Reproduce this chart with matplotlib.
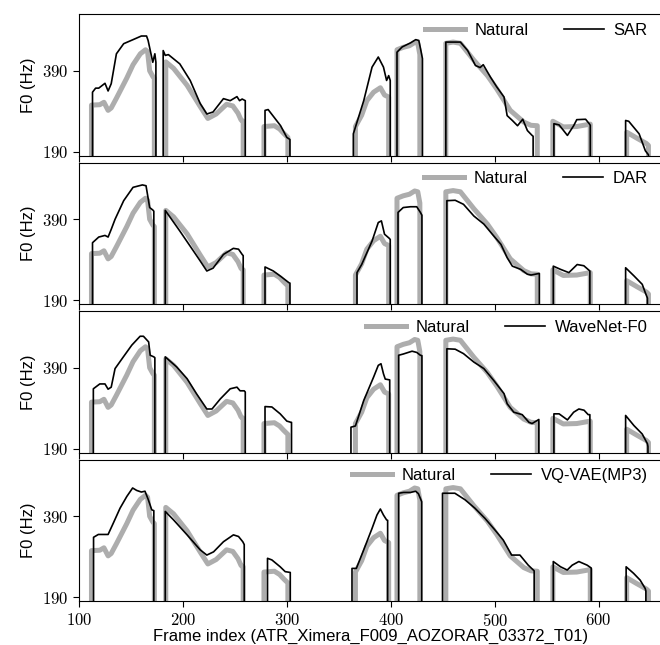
import numpy as np
import matplotlib
matplotlib.use("Agg")
import matplotlib.pyplot as plt
from matplotlib.ticker import FuncFormatter

plt.rcParams['font.family'] = ['Liberation Sans', 'DejaVu Sans']
plt.rcParams['mathtext.fontset'] = 'cm'
plt.rcParams['font.size'] = 12

# voiced segments, (frame, F0 in Hz); unvoiced frames are 0
natural = [
    [(112, 305), (120, 306), (124, 312), (128, 292), (131, 298), (136, 322), (146, 372),
     (152, 405), (159, 432), (164, 442), (166, 437), (168, 390), (171, 376), (172.5, 372)],
    [(183.5, 412), (191, 396), (204, 354), (217, 300), (224, 272), (232, 283), (242, 307),
     (248, 303), (253, 285), (256, 268), (258, 265)],
    [(278, 252), (288, 254), (293, 246), (297, 235), (301, 225)],
    [(366, 252), (372, 280), (377, 316), (383.5, 337), (390, 348), (394, 330), (398, 325)],
    [(406, 442), (412, 448), (418, 452), (423, 460), (426, 458), (428, 430)],
    [(453, 458), (460, 461), (467, 458), (480, 416), (493, 378), (502, 345), (515, 292),
     (528, 263), (535, 255), (541, 254)],
    [(556, 265), (566, 251), (579, 252), (592, 258)],
    [(627, 238), (637, 223), (646, 210), (648, 205)],
]

sar = [
    [(113, 337), (116, 347), (119, 347), (125, 359), (128, 340), (131, 358), (136, 432),
     (143, 457), (152, 467), (160, 476), (165, 476), (166.5, 465), (171, 411), (173, 432),
     (174, 411)],
    [(181, 440), (183, 428), (186, 430), (197, 407), (207, 366), (216.6, 309), (223, 283),
     (229, 288), (239, 321), (245.5, 316), (252, 326), (254.5, 316), (257, 320), (260, 316)],
    [(279, 292), (282, 294), (294, 254), (300, 225), (303, 220)],
    [(364, 234), (374, 316), (382, 399), (388, 424), (393, 399), (396, 366), (398, 378),
     (399.5, 366)],
    [(406, 436), (411, 449), (419, 459), (424, 467), (427, 465), (429, 440), (430.5, 420)],
    [(453, 461), (467, 461), (474, 440), (481.5, 403), (486, 398), (489, 405), (496, 374),
     (502, 350), (509, 325), (512, 279), (517, 267), (522, 254), (527, 270), (531.5, 242),
     (536, 230), (537, 228)],
    [(557, 259), (562, 256), (570, 230), (576, 254), (579, 269), (587.5, 270), (591, 259),
     (592, 255)],
    [(626, 267), (629, 265), (639, 234), (645, 192), (648, 182)],
]

dar = [
    [(113, 332), (119, 346), (125, 350), (128, 346), (131, 365), (134.7, 390), (143, 436),
     (152, 469), (161, 475), (164.5, 473), (166, 450), (168, 419), (171, 413), (172, 410)],
    [(183, 412), (197, 361), (210, 312), (216.6, 287), (223, 262), (229, 269), (239, 303),
     (248.5, 318), (253.5, 316), (257, 303), (258, 300)],
    [(279, 272), (287, 262), (295, 247), (302, 233), (303, 232)],
    [(367.5, 258), (372, 278), (382, 336), (388, 382), (391, 386), (394, 353), (398.5, 343),
     (399.5, 340)],
    [(407, 407), (412, 419), (419, 421), (425, 421), (428.5, 407), (430, 400)],
    [(454, 436), (462, 437), (470, 427), (480, 398), (489.6, 378), (499, 349), (506, 328),
     (512, 295), (517, 274), (525, 266), (531.5, 254), (535, 252), (543, 256)],
    [(556.4, 274), (563.4, 266), (571.4, 258), (579.4, 278), (585.8, 275), (591.6, 262)],
    [(626, 270), (634, 250), (642, 229), (645, 208), (647, 195)],
]

wavenet = [
    [(113.8, 338), (120, 350), (125, 350), (128, 337), (131, 342), (134.7, 388),
     (142.7, 417), (150.8, 446), (158.8, 468), (162, 468), (167, 454), (168.5, 421),
     (172, 417), (173, 415)],
    [(183, 417), (194, 392), (204, 363), (213, 326), (223, 288), (228, 288), (236, 313),
     (245.5, 338), (252, 342), (255, 333), (259, 333), (260, 330)],
    [(279, 294), (285.6, 293), (293.6, 276), (300, 258), (304, 255), (304.5, 255)],
    [(361.7, 243), (366, 246), (374, 309), (383.5, 367), (388, 396), (390.6, 400),
     (393, 375), (394.7, 362), (399, 360)],
    [(407.6, 421), (412, 424), (420.5, 431), (425, 428), (428.5, 421), (430, 420)],
    [(454, 437), (462, 436), (470, 425), (480, 404), (489.6, 388), (499, 359), (509, 326),
     (512, 301), (518.4, 280), (526.5, 274), (533, 255), (536, 252), (542.5, 262)],
    [(557, 276), (562, 276), (570, 261), (576, 280), (581, 288), (586, 285), (590, 274),
     (591.6, 274)],
    [(626, 272), (634, 247), (642, 226), (647, 202), (647.5, 195)],
]

vqvae = [
    [(114, 338), (118.6, 345), (128, 345), (133, 373), (139.5, 410), (146, 439),
     (151.6, 460), (155.5, 454), (160, 450), (163.5, 452), (166.7, 431), (170, 406),
     (172, 404)],
    [(183, 402), (191, 381), (204, 344), (216.6, 307), (223, 294), (229.5, 302), (239, 327),
     (248.6, 344), (253.5, 340), (257.6, 327), (259, 320)],
    [(281.4, 286), (285.6, 282), (293.6, 265), (298.4, 253), (303.3, 251)],
    [(362.7, 261), (366.9, 261), (374, 307), (382, 360), (386.7, 393), (390, 408),
     (393, 393), (396, 381), (397, 380)],
    [(407.6, 447), (412.3, 449), (419, 449), (424, 452), (426.6, 446), (429.8, 426)],
    [(449.8, 447), (461.7, 447), (471.4, 431), (481, 410), (490.6, 385), (500.3, 356),
     (508.3, 331), (516.3, 294), (524.3, 294), (532.3, 269), (537.2, 257), (538, 255)],
    [(556.4, 278), (563.4, 265), (569.8, 257), (574.6, 269), (581, 278), (589, 269),
     (592.9, 262)],
    [(626.5, 265), (633.6, 249), (640, 232), (644.9, 211), (645.5, 205)],
]

models = ["SAR", "DAR", "WaveNet-F0", "VQ-VAE(MP3)"]
model_data = [sar, dar, wavenet, vqvae]
xticks = [100, 200, 300, 400, 500, 600]
yticks = [190, 390]


def to_xy(segments):
    # unvoiced frames are 0, so every segment falls to 0 at both ends
    x = []
    y = []
    for seg in segments:
        x.append(seg[0][0])
        y.append(0)
        for f, v in seg:
            x.append(f)
            y.append(v)
        x.append(seg[-1][0])
        y.append(0)
    return np.array(x), np.array(y)


nx, ny = to_xy(natural)
tex = FuncFormatter(lambda v, p: r"$%d$" % v)

fig, axes = plt.subplots(4, 1, sharex=True, figsize=(6.6, 6.45), dpi=100)
fig.subplots_adjust(left=0.1197, right=1.003, top=0.978, bottom=0.068, hspace=0.05)

for ax, name, data in zip(axes, models, model_data):
    mx, my = to_xy(data)
    ax.plot(nx, ny, color='#adadad', lw=3.6, label="Natural", solid_joinstyle='round')
    ax.plot(mx, my, color='black', lw=1.2, label=name)
    ax.set_xlim(100, 661)
    ax.set_ylim(180, 530)
    ax.set_yticks(yticks)
    ax.yaxis.set_major_formatter(tex)
    ax.set_ylabel("F0 (Hz)")
    ax.tick_params(direction='out', length=4.3, width=0.8, labelsize=12)
    ax.spines['right'].set_visible(False)
    ax.legend(loc='upper right', bbox_to_anchor=(0.99, 1.0), ncol=2, frameon=False,
              handlelength=2.4, handletextpad=0.6, columnspacing=2.1,
              borderaxespad=0.1, fontsize=12)

axes[-1].set_xticks(xticks)
axes[-1].xaxis.set_major_formatter(tex)
axes[-1].set_xlabel("Frame index (ATR_Ximera_F009_AOZORAR_03372_T01)", labelpad=0)

fig.savefig("out.png", dpi=100)
